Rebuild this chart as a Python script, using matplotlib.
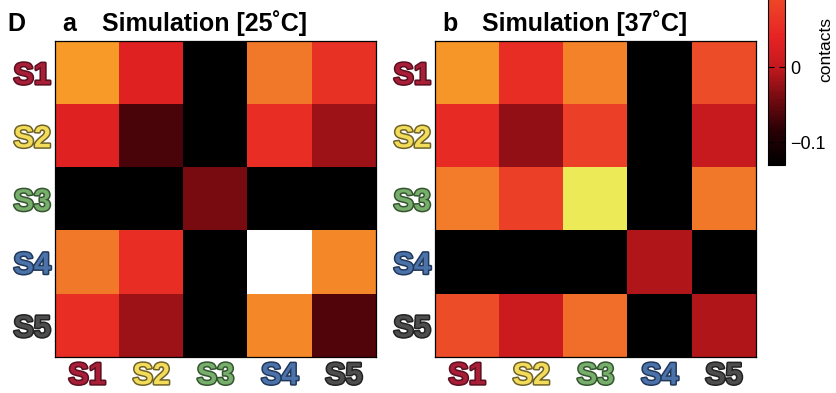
import numpy as np
import matplotlib
matplotlib.use("Agg")
from matplotlib import pyplot as plt
from matplotlib import patheffects
from matplotlib.colors import LinearSegmentedColormap

# labels and their colours
labels = ["S1", "S2", "S3", "S4", "S5"]
label_fill = ["#a81e37", "#f3dc5a", "#77ae6c", "#4b73aa", "#4d4d4d"]
label_edge = ["#5a1020", "#6e6228", "#345530", "#22385a", "#222222"]

# contact differences (rows S1..S5, cols S1..S5)
sim_25 = [
    [0.170, 0.035, -0.150, 0.135, 0.060],
    [0.035, -0.065, -0.150, 0.055, -0.020],
    [-0.150, -0.150, -0.040, -0.150, -0.150],
    [0.135, 0.055, -0.150, 0.320, 0.150],
    [0.055, -0.020, -0.150, 0.150, -0.060],
]
sim_37 = [
    [0.165, 0.055, 0.145, -0.150, 0.095],
    [0.050, -0.025, 0.080, -0.150, 0.005],
    [0.140, 0.080, 0.250, -0.150, 0.135],
    [-0.150, -0.150, -0.150, -0.010, -0.150],
    [0.095, 0.010, 0.125, -0.150, -0.010],
]
panels = [("a", "Simulation [25˚C]", sim_25), ("b", "Simulation [37˚C]", sim_37)]
cbar_ticks = [-0.1, 0, 0.1]
cbar_ticklabels = ["\u22120.1", "0", "0.1"]

vmin, vmax = -0.13, 0.32
nodes = [
    (-0.13, "#000000"),
    (-0.085, "#280005"),
    (-0.045, "#6e0a0f"),
    (0.0, "#c3191e"),
    (0.04, "#e62323"),
    (0.09, "#ed4628"),
    (0.13, "#f1732a"),
    (0.17, "#f79b28"),
    (0.25, "#ecea55"),
    (0.32, "#ffffff"),
]
cmap = LinearSegmentedColormap.from_list(
    "contacts", [((v - vmin) / (vmax - vmin), c) for v, c in nodes]
)

plt.rcParams["font.family"] = ["Liberation Sans", "DejaVu Sans"]
W, H = 836, 393
fig = plt.figure(figsize=(W / 100, H / 100), dpi=100)


def px(x, y, w=0, h=0):
    # pixel box (top-left origin) -> figure fraction
    return [x / W, 1 - (y + h) / H, w / W, h / H]


lefts = [55, 435]
for (letter, title, data), left in zip(panels, lefts):
    ax = fig.add_axes(px(left, 41, 321, 316))
    im = ax.imshow(np.array(data), cmap=cmap, vmin=vmin, vmax=vmax,
                   aspect="auto", interpolation="nearest")
    ax.set_xticks(range(5))
    ax.set_yticks(range(5))
    ax.set_xticklabels(labels)
    ax.set_yticklabels(labels)
    ax.tick_params(length=0, pad=3)
    for spine in ax.spines.values():
        spine.set_linewidth(0.9)
    for tl, fc, ec in zip(ax.get_xticklabels() + ax.get_yticklabels(),
                          label_fill * 2, label_edge * 2):
        tl.set_fontsize(22)
        tl.set_fontweight("bold")
        tl.set_color(fc)
        tl.set_path_effects([patheffects.withStroke(linewidth=2.2, foreground=ec)])
    fig.text((left + 7) / W, 1 - 31 / H, letter, fontsize=18,
             fontweight="bold", va="baseline")
    fig.text((left + 47) / W, 1 - 31 / H, title, fontsize=18,
             fontweight="bold", va="baseline")

fig.text(7 / W, 1 - 31 / H, "D", fontsize=18, fontweight="bold", va="baseline")

# colorbar runs past the top edge: 75 px per 0.1, bottom at y = 165 px
cbar_h = (vmax - vmin) * 750
cax = fig.add_axes(px(768, 165 - cbar_h, 17, cbar_h))
cb = fig.colorbar(im, cax=cax)
cb.set_ticks(cbar_ticks)
cb.set_ticklabels(cbar_ticklabels)
cb.outline.set_linewidth(0.8)
cax.tick_params(direction="in", length=4, width=0.8, left=True, right=True,
                labelsize=13, pad=4)
fig.text(826 / W, 1 - 50 / H, "contacts", rotation=90, fontsize=12.5,
         ha="center", va="center")

fig.savefig("out.png", dpi=100)
